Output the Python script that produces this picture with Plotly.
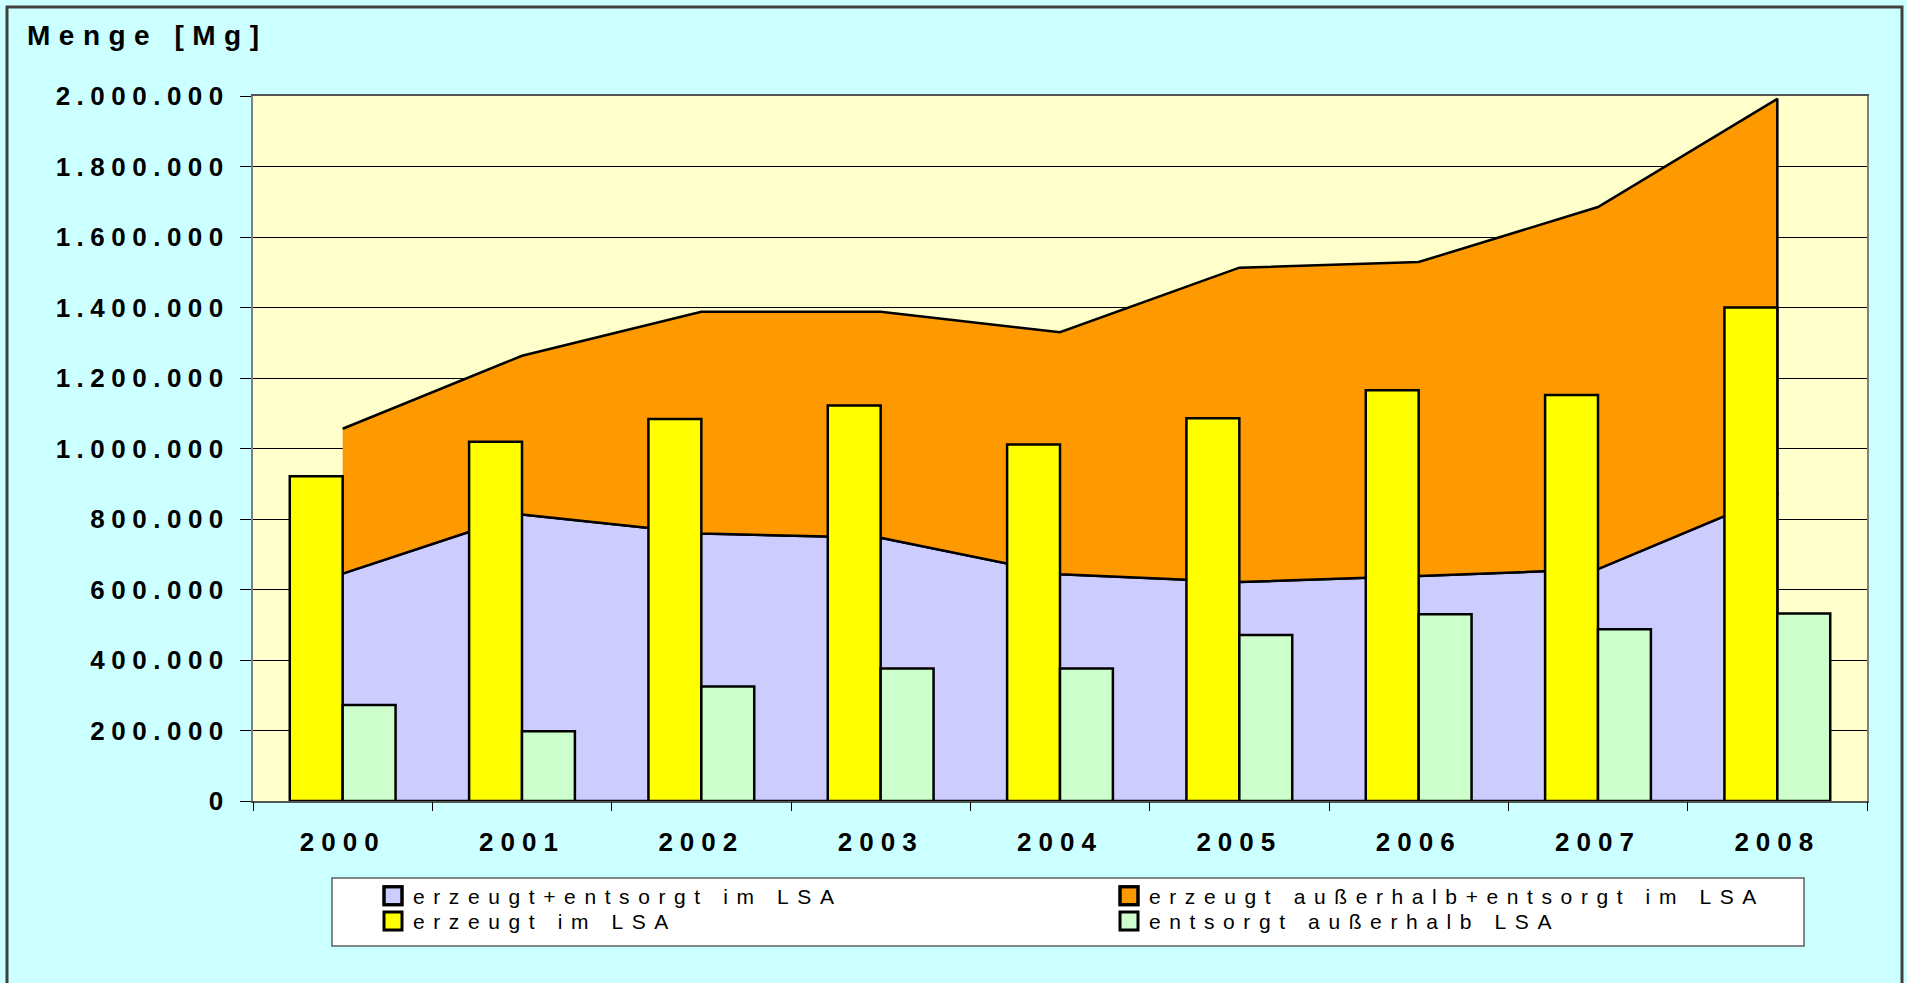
import plotly.graph_objects as go

# ---- data (Mg) ----
years = [2000, 2001, 2002, 2003, 2004, 2005, 2006, 2007, 2008]
erzeugt_entsorgt_lsa = [645000, 813000, 759000, 747000, 643000, 621000, 638000, 658000, 871000]
erzeugt_ausserhalb_entsorgt_lsa = [411000, 450000, 629000, 641000, 687000, 892000, 891000, 1027000, 1121000]
erzeugt_im_lsa = [921000, 1019000, 1084000, 1122000, 1011000, 1086000, 1165000, 1152000, 1400000]
entsorgt_ausserhalb_lsa = [272000, 198000, 325000, 376000, 376000, 471000, 530000, 487000, 532000]

names = ["erzeugt+entsorgt im LSA", "erzeugt außerhalb+entsorgt im LSA",
         "erzeugt im LSA", "entsorgt außerhalb LSA"]
year_labels = [str(y) for y in years]
y_title = "Menge [Mg]"

C_BLUE = "#CCCCFF"
C_ORANGE = "#FF9900"
C_YELLOW = "#FFFF00"
C_GREEN = "#CCFFCC"

# stacked totals
stack_top = [a + b for a, b in zip(erzeugt_entsorgt_lsa, erzeugt_ausserhalb_entsorgt_lsa)]
rev_years = years[::-1]

fig = go.Figure()

# stacked areas as closed polygons (outlined like the original)
fig.add_trace(go.Scatter(
    x=years + rev_years, y=erzeugt_entsorgt_lsa + [0] * len(years),
    fill="toself", fillcolor=C_BLUE, mode="lines",
    line=dict(color="black", width=2.5), name=names[0], hoverinfo="skip"))
fig.add_trace(go.Scatter(
    x=years + rev_years, y=stack_top + erzeugt_entsorgt_lsa[::-1],
    fill="toself", fillcolor=C_ORANGE, mode="lines",
    line=dict(color="black", width=2.5), name=names[1], hoverinfo="skip"))

# bars on an overlaid subplot so they sit above the areas
fig.add_trace(go.Bar(x=years, y=erzeugt_im_lsa, name=names[2], xaxis="x2", yaxis="y2",
                     marker=dict(color=C_YELLOW, line=dict(color="black", width=2.5))))
fig.add_trace(go.Bar(x=years, y=entsorgt_ausserhalb_lsa, name=names[3], xaxis="x2", yaxis="y2",
                     marker=dict(color=C_GREEN, line=dict(color="black", width=2.5))))

xr = [years[0] - 0.5, years[-1] + 0.5]
yr = [0, 2000000]
boundaries = [y - 0.5 for y in years] + [years[-1] + 0.5]

W, H = 1907, 983
ml, mr, mt, mb = 253, 40, 96, 182
pw, ph = W - ml - mr, H - mt - mb

def px(v):
    return (v - ml) / pw

def py(v):
    return (H - mb - v) / ph

tick_font = dict(family="Liberation Sans, Arial, sans-serif", size=26, color="black", weight="bold")

fig.update_layout(
    width=W, height=H,
    margin=dict(l=ml, r=mr, t=mt, b=mb),
    paper_bgcolor="#CCFFFF", plot_bgcolor="#FFFFCC",
    separators=",.",
    barmode="group", bargap=0.41, bargroupgap=0,
    showlegend=True,
    title=dict(text=y_title, x=27 / W, xanchor="left", xref="container",
               y=1 - 35 / H, yanchor="middle", yref="container",
               font=dict(family="Liberation Sans, Arial, sans-serif", size=28, color="black", weight="bold")),
    xaxis=dict(range=xr, tickvals=years, ticktext=year_labels, ticks="",
               showgrid=False, zeroline=False, showline=True, linecolor="#555555", linewidth=2,
               mirror=True, tickfont=tick_font, ticklabelstandoff=17),
    yaxis=dict(range=yr, dtick=200000, tickformat=",d", ticks="outside", ticklen=11,
               tickcolor="black", tickwidth=1, showgrid=True, gridcolor="black", gridwidth=1,
               zeroline=False, showline=True, linecolor="#808080", linewidth=2, mirror=True,
               tickfont=tick_font, ticklabelstandoff=5),
    xaxis2=dict(range=xr, overlaying="x", anchor="y2", tickvals=boundaries, showticklabels=False,
                ticks="outside", ticklen=9, tickcolor="black", tickwidth=1,
                showgrid=False, zeroline=False, showline=False),
    yaxis2=dict(range=yr, overlaying="y", visible=False, showgrid=False),
    legend=dict(orientation="h", xref="container", yref="container",
                x=373 / W, xanchor="left", y=1 - 875.5 / H, yanchor="top",
                entrywidth=691, entrywidthmode="pixels",
                bgcolor="rgba(0,0,0,0)", borderwidth=0, traceorder="normal",
                font=dict(family="Liberation Sans, Arial, sans-serif", size=21, color="black")),
    shapes=[
        dict(type="rect", xref="paper", yref="paper", x0=px(332), x1=px(1804), y0=py(946), y1=py(878),
             fillcolor="white", line=dict(color="#606060", width=1.5), layer="below"),
        dict(type="rect", xref="paper", yref="paper", x0=px(7), x1=px(1902), y0=py(1000), y1=py(7),
             fillcolor="rgba(0,0,0,0)", line=dict(color="#404040", width=3), layer="below"),
    ],
)

js = """
document.body.style.margin = '0';
var gd = document.getElementById('{plot_id}');
function sq(p){
  p.style.setProperty('stroke', 'black', 'important');
  p.style.setProperty('stroke-width', '3px', 'important');
  p.style.setProperty('stroke-opacity', '1', 'important');
}
function restyleText(){
  var spec = [['.xtick text','7px'], ['.ytick text','6.5px'], ['.legendtext','8.6px'], ['.gtitle','8.5px']];
  spec.forEach(function(s){
    gd.querySelectorAll(s[0]).forEach(function(t){ t.style.letterSpacing = s[1]; });
  });
  var trs = gd.querySelectorAll('.legend .traces');
  trs.forEach(function(tr, i){
    var fp = tr.querySelector('.legendfill path');
    var lp = tr.querySelector('.legendlines path');
    if (fp) { fp.setAttribute('d', 'M11,-9h18v18h-18z'); sq(fp); }
    if (lp) { lp.setAttribute('d', 'M11,-9h18v18h-18z'); lp.style.setProperty('fill', 'none', 'important'); sq(lp); }
    if (!fp) {
      tr.querySelectorAll('.legendpoints path').forEach(function(p){
        p.setAttribute('d', 'M9,9H-9V-9H9Z'); sq(p);
      });
    }
    if (i >= 2) {
      var t = tr.getAttribute('transform') || '';
      if (tr.__adj !== t) {
        var m = /translate\\(([-\\d.e]+)[ ,]+([-\\d.e]+)\\)/.exec(t);
        if (m) {
          var nt = 'translate(' + m[1] + ',' + (parseFloat(m[2]) - 5) + ')';
          tr.setAttribute('transform', nt); tr.__adj = nt;
        }
      }
    }
  });
}
restyleText();
if (gd.on) { gd.on('plotly_afterplot', restyleText); }
"""

fig.write_html("out.html", post_script=js, config={"displayModeBar": False})
